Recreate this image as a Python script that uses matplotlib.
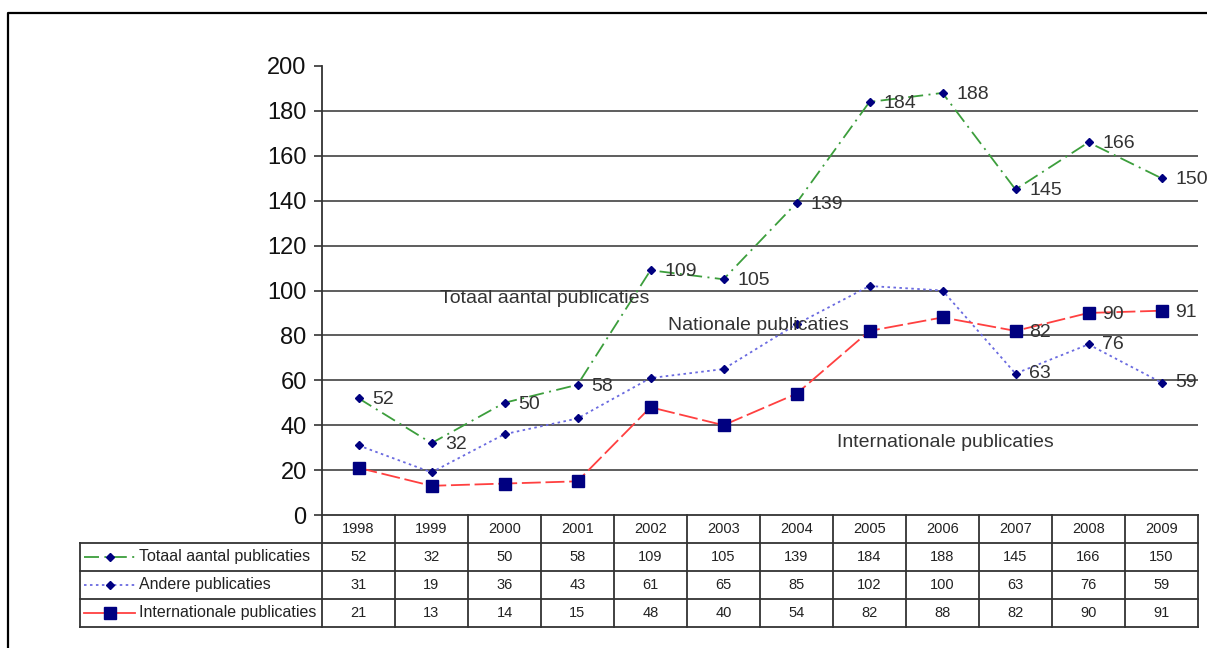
import matplotlib
matplotlib.use("Agg")
from matplotlib import pyplot as plt
from matplotlib.lines import Line2D
import numpy as np

years = ["1998", "1999", "2000", "2001", "2002", "2003", "2004", "2005", "2006", "2007", "2008", "2009"]
totaal = [52, 32, 50, 58, 109, 105, 139, 184, 188, 145, 166, 150]
andere = [31, 19, 36, 43, 61, 65, 85, 102, 100, 63, 76, 59]
internationaal = [21, 13, 14, 15, 48, 40, 54, 82, 88, 82, 90, 91]
row_names = ["Totaal aantal publicaties", "Andere publicaties", "Internationale publicaties"]

plt.rcParams['font.family'] = ['Liberation Sans', 'DejaVu Sans']

W, H = 1207, 648
fig = plt.figure(figsize=(W / 100, H / 100), dpi=100)

def fx(px):
    return px / W

def fy(py):
    return 1 - py / H

# main plot area
ax_l, ax_r, ax_t, ax_b = 322, 1198, 66, 515
ax = fig.add_axes([fx(ax_l), fy(ax_b), fx(ax_r - ax_l), fy(ax_t) - fy(ax_b)])
x = np.arange(len(years))
ax.set_xlim(-0.5, len(years) - 0.5)
ax.set_ylim(0, 200)

for y in range(20, 200, 20):
    ax.axhline(y, color="#505050", lw=1.3, zorder=1)

green = "#3c9e3c"
blue = "#6a6ae0"
red = "#ff4040"
navy = "#000080"

styles = [
    dict(color=green, lw=1.3, dashes=(8.3, 3, 1.1, 3), marker="D", ms=4.5),
    dict(color=blue, lw=1.3, dashes=(1.4, 1.9), marker="D", ms=4.5),
    dict(color=red, lw=1.3, dashes=(10.5, 2.6), marker="s", ms=9),
]
series = [totaal, andere, internationaal]

for vals, st in zip(series, styles):
    ax.plot(x, vals, color=st["color"], lw=st["lw"], dashes=st["dashes"],
            marker=st["marker"], ms=st["ms"], mfc=navy, mec=navy, zorder=3)

# data labels
lab_color = "#333333"
for i, v in enumerate(totaal):
    ax.annotate(str(v), (x[i], v), xytext=(10, -1), textcoords="offset points",
                fontsize=14, color=lab_color, va="center", ha="left", zorder=4)
for i in range(9, 12):
    ax.annotate(str(internationaal[i]), (x[i], internationaal[i]), xytext=(10, -1),
                textcoords="offset points", fontsize=14, color=lab_color, va="center", ha="left", zorder=4)
    ax.annotate(str(andere[i]), (x[i], andere[i]), xytext=(10, 0),
                textcoords="offset points", fontsize=14, color=lab_color, va="center", ha="left", zorder=4)

ax.text(1.12, 96.5, "Totaal aantal publicaties", fontsize=14, color=lab_color, va="center", ha="left")
ax.text(4.24, 84.5, "Nationale publicaties", fontsize=14, color=lab_color, va="center", ha="left")
ax.text(6.55, 32.5, "Internationale publicaties", fontsize=14, color=lab_color, va="center", ha="left")

ax.set_yticks(range(0, 201, 20))
ax.tick_params(axis="y", length=6, width=1.2, color="#333333", labelsize=17, pad=5, labelcolor="#111111")
ax.tick_params(axis="x", length=0, labelbottom=False)
for s in ["top", "right"]:
    ax.spines[s].set_visible(False)
ax.spines["left"].set_color("#333333")
ax.spines["left"].set_linewidth(1.3)
ax.spines["bottom"].set_color("#333333")
ax.spines["bottom"].set_linewidth(1.3)

# data table below
tb_l, tb_t, tb_b = 80, 515, 627
tax = fig.add_axes([fx(tb_l), fy(tb_b), fx(ax_r - tb_l), fy(tb_t) - fy(tb_b)])
col_w = (ax_r - ax_l) / len(years)
left_d = -0.5 - (ax_l - tb_l) / col_w
tax.set_xlim(left_d, len(years) - 0.5)
tax.set_ylim(4, 0)
tax.axis("off")

lc = "#333333"
for r in range(1, 5):
    tax.plot([left_d, len(years) - 0.5], [r, r], color=lc, lw=1.3, clip_on=False)
for c in range(len(years) + 1):
    tax.plot([c - 0.5, c - 0.5], [0, 4], color=lc, lw=1.3, clip_on=False)
tax.plot([left_d, left_d], [1, 4], color=lc, lw=1.3, clip_on=False)

for c, yr in enumerate(years):
    tax.text(c, 0.5, yr, ha="center", va="center", fontsize=10.5, color="#222222")
for r, vals in enumerate(series):
    for c, v in enumerate(vals):
        tax.text(c, r + 1.5, str(v), ha="center", va="center", fontsize=10.5, color="#222222")

def px2d(px):
    return -0.5 + (px - ax_l) / col_w

for r, (name, st) in enumerate(zip(row_names, styles)):
    yy = r + 1.5
    tax.plot([px2d(84), px2d(135)], [yy, yy], color=st["color"], lw=st["lw"], clip_on=False,
             dashes=(st["dashes"] if r < 2 else (None, None)))
    tax.plot([px2d(110)], [yy], marker=st["marker"], ms=st["ms"] * 0.95, mfc=navy, mec=navy,
             ls="none", clip_on=False)
    tax.text(px2d(139), yy, name, ha="left", va="center", fontsize=11.5, color="#222222")

# outer frame (left and top)
fig.add_artist(Line2D([fx(8), fx(8), 1.0], [0.0, fy(13), fy(13)], color="black", lw=1.6))

fig.savefig("out.png", dpi=100)
